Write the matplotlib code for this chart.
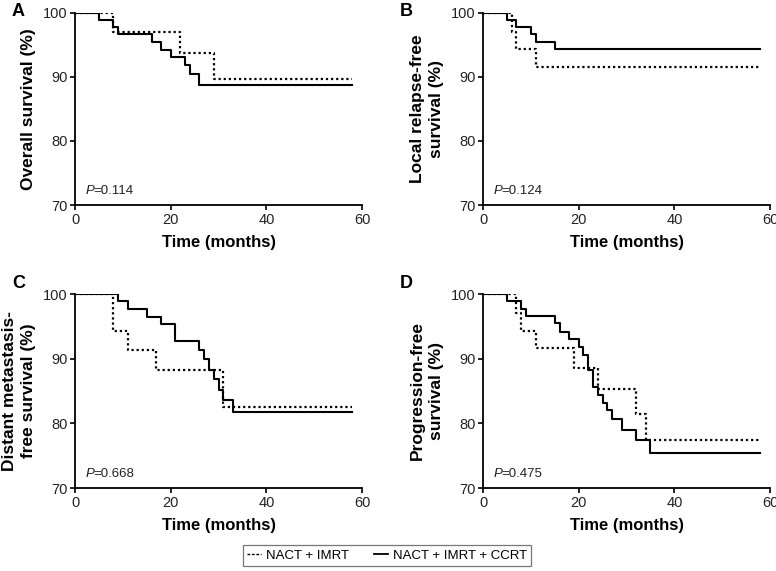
import matplotlib
matplotlib.use('Agg')
import matplotlib.pyplot as plt
from matplotlib.lines import Line2D

plt.rcParams['font.family'] = ['Liberation Sans', 'DejaVu Sans']

# Kaplan-Meier step data (time in months, survival in %)
# A: overall survival
os_imrt_t = [0, 8, 22, 29, 58]
os_imrt_s = [100, 97.1, 93.8, 89.7, 89.7]
os_ccrt_t = [0, 5, 8, 9, 16, 18, 20, 23, 24, 26, 58]
os_ccrt_s = [100, 98.9, 97.8, 96.7, 95.5, 94.2, 93.1, 91.8, 90.4, 88.8, 88.8]

# B: local relapse-free survival
lrfs_imrt_t = [0, 6, 7, 11, 58]
lrfs_imrt_s = [100, 97.1, 94.3, 91.6, 91.6]
lrfs_ccrt_t = [0, 5, 7, 10, 11, 15, 58]
lrfs_ccrt_s = [100, 98.9, 97.8, 96.7, 95.5, 94.3, 94.3]

# C: distant metastasis-free survival
dmfs_imrt_t = [0, 8, 11, 17, 31, 58]
dmfs_imrt_s = [100, 94.3, 91.4, 88.2, 82.6, 82.6]
dmfs_ccrt_t = [0, 9, 11, 15, 18, 21, 26, 27, 28, 29, 30, 31, 33, 58]
dmfs_ccrt_s = [100, 98.9, 97.7, 96.5, 95.3, 92.8, 91.4, 90.0, 88.3, 86.8, 85.2, 83.6, 81.7, 81.7]

# D: progression-free survival
pfs_imrt_t = [0, 7, 8, 11, 19, 24, 32, 34, 58]
pfs_imrt_s = [100, 97.1, 94.3, 91.6, 88.6, 85.3, 81.4, 77.5, 77.5]
pfs_ccrt_t = [0, 5, 8, 9, 15, 16, 18, 20, 21, 22, 23, 24, 25, 26, 27, 29, 32, 35, 58]
pfs_ccrt_s = [100, 98.9, 97.7, 96.6, 95.5, 94.2, 93.0, 91.8, 90.6, 88.2, 85.6, 84.4, 83.2, 82.0,
              80.6, 79.0, 77.5, 75.4, 75.4]

panels = [
    ('A', 'Overall survival (%)', os_imrt_t, os_imrt_s, os_ccrt_t, os_ccrt_s),
    ('B', 'Local relapse-free\nsurvival (%)', lrfs_imrt_t, lrfs_imrt_s, lrfs_ccrt_t, lrfs_ccrt_s),
    ('C', 'Distant metastasis-\nfree survival (%)', dmfs_imrt_t, dmfs_imrt_s, dmfs_ccrt_t, dmfs_ccrt_s),
    ('D', 'Progression-free\nsurvival (%)', pfs_imrt_t, pfs_imrt_s, pfs_ccrt_t, pfs_ccrt_s),
]
p_values = ['0.114', '0.124', '0.668', '0.475']
legend_labels = ['NACT + IMRT', 'NACT + IMRT + CCRT']

W, H = 776, 571
fig = plt.figure(figsize=(W / 100, H / 100), dpi=100)

# axes rectangles in pixels: left, top, right, bottom
boxes = [(75, 13, 362, 205), (483, 13, 770, 205), (75, 294, 362, 488), (483, 294, 770, 488)]
letter_pos = [(12, 3), (400, 3), (12, 275), (400, 275)]
dotted = (0, (1, 1.3))

for i, (letter, ylab, t1, s1, t2, s2) in enumerate(panels):
    l, t, r, b = boxes[i]
    ax = fig.add_axes([l / W, 1 - b / H, (r - l) / W, (b - t) / H])
    ax.step(t1, s1, where='post', color='black', lw=1.6, linestyle=dotted)
    ax.step(t2, s2, where='post', color='black', lw=1.5)
    ax.set_xlim(0, 60)
    ax.set_ylim(70, 100)
    ax.set_xticks([0, 20, 40, 60])
    ax.set_yticks([70, 80, 90, 100])
    for side in ['top', 'right']:
        ax.spines[side].set_visible(False)
    for side in ['left', 'bottom']:
        ax.spines[side].set_linewidth(1.3)
    ax.tick_params(direction='out', length=3.5, width=1.2, pad=2, labelsize=10.5,
                   labelcolor='#222222')
    ax.set_xlabel('Time (months)', fontsize=12, fontweight='bold', labelpad=6)
    ax.set_ylabel(ylab, fontsize=12.5, fontweight='bold', labelpad=5, linespacing=1.3)
    ax.text(2.3, 72.2, 'P', fontsize=9.5, style='italic', va='center', color='#222222')
    ax.text(3.85, 72.2, '=' + p_values[i], fontsize=9.5, va='center', color='#222222')
    lx, ly = letter_pos[i]
    fig.text(lx / W, 1 - ly / H, letter, fontsize=13, fontweight='bold', va='top', ha='left')

handles = [Line2D([], [], color='black', lw=1.0, linestyle=(0, (2, 1.2))),
           Line2D([], [], color='black', lw=1.3)]
leg = fig.legend(handles, legend_labels, loc='center', bbox_to_anchor=(387 / W, 1 - 555.5 / H),
                 ncol=2, frameon=True, fancybox=False, fontsize=9.5, handlelength=1.1,
                 handletextpad=0.35, columnspacing=1.9, borderpad=0.3)
leg.get_frame().set_edgecolor('#555555')
leg.get_frame().set_linewidth(0.9)

fig.savefig('out.png', dpi=100)
